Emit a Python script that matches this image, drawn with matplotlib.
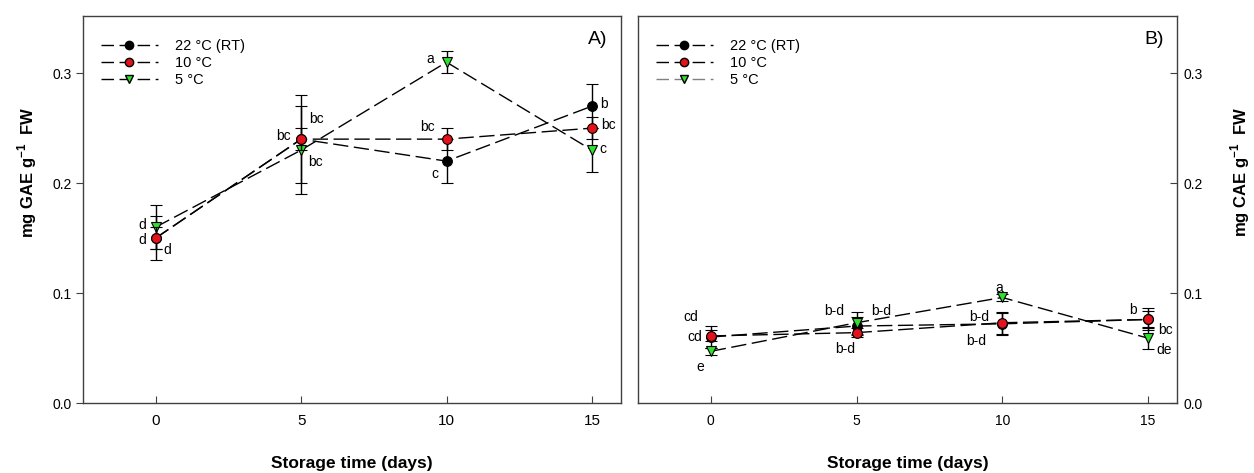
import matplotlib
matplotlib.use("Agg")
import matplotlib.pyplot as plt
from matplotlib.lines import Line2D

plt.rcParams['font.family'] = ['Liberation Sans', 'DejaVu Sans']
plt.rcParams['mathtext.fontset'] = 'custom'
plt.rcParams['mathtext.rm'] = 'Liberation Sans'
plt.rcParams['mathtext.bf'] = 'Liberation Sans:bold'

days = [0, 5, 10, 15]
series_names = ["22 °C (RT)", "10 °C", "5 °C"]

# Panel A (mg GAE g-1 FW)
a_22 = [0.15, 0.24, 0.22, 0.27]
a_22_err = [0.02, 0.04, 0.02, 0.02]
a_10 = [0.15, 0.24, 0.24, 0.25]
a_10_err = [0.01, 0.01, 0.01, 0.01]
a_5 = [0.16, 0.23, 0.31, 0.23]
a_5_err = [0.02, 0.04, 0.01, 0.02]

# Panel B (mg CAE g-1 FW)
b_22 = [0.060, 0.070, 0.072, 0.076]
b_22_err = [0.010, 0.008, 0.010, 0.008]
b_10 = [0.061, 0.064, 0.073, 0.076]
b_10_err = [0.005, 0.004, 0.010, 0.010]
b_5 = [0.047, 0.073, 0.096, 0.059]
b_5_err = [0.003, 0.010, 0.003, 0.010]

# letters: (x, y, text)
a_letters = [(-0.47, 0.162, "d"), (-0.47, 0.148, "d"), (0.41, 0.139, "d"),
             (5.54, 0.258, "bc"), (4.38, 0.243, "bc"), (5.48, 0.219, "bc"),
             (9.43, 0.313, "a"), (9.35, 0.251, "bc"), (9.59, 0.208, "c"),
             (15.41, 0.272, "b"), (15.56, 0.253, "bc"), (15.38, 0.231, "c")]
b_letters = [(-0.68, 0.078, "cd"), (-0.55, 0.060, "cd"), (-0.37, 0.033, "e"),
             (4.25, 0.084, "b-d"), (5.85, 0.084, "b-d"), (4.6, 0.049, "b-d"),
             (9.9, 0.105, "a"), (9.2, 0.078, "b-d"), (9.1, 0.056, "b-d"),
             (14.5, 0.085, "b"), (15.6, 0.066, "bc"), (15.55, 0.048, "de")]

RED = '#e3121b'
GREEN = '#2fe02f'
SPINE = '#404040'

fig = plt.figure(figsize=(12.54, 4.73), dpi=100)
axA = fig.add_axes([83/1254, 70/473, 538/1254, 387/473])
axB = fig.add_axes([638/1254, 70/473, 539/1254, 387/473])

def draw(ax, s22, e22, s10, e10, s5, e5, letters, panel, legend_gray):
    common = dict(ls=(0, (11, 4)), lw=1.0, ecolor='black', elinewidth=1.0,
                  capsize=4.3, capthick=1.0, markeredgecolor='black',
                  markeredgewidth=0.8, markersize=7)
    ax.errorbar(days, s22, yerr=e22, color='black', marker='o',
                markerfacecolor='black', zorder=3, **common)
    ax.errorbar(days, s5, yerr=e5, color='black', marker='v',
                markerfacecolor=GREEN, zorder=4, **common)
    ax.errorbar(days, s10, yerr=e10, color='black', marker='o',
                markerfacecolor=RED, zorder=5, **common)
    for x, y, t in letters:
        ax.text(x, y, t, ha='center', va='center', fontsize=10, zorder=6)
    ax.set_xlim(-2.5, 16)
    ax.set_ylim(0, 0.352)
    ax.set_xticks(days)
    ax.set_yticks([0.0, 0.1, 0.2, 0.3])
    ax.set_yticklabels(["0.0", "0.1", "0.2", "0.3"])
    for sp in ax.spines.values():
        sp.set_color(SPINE)
        sp.set_linewidth(1.0)
    ax.text(0.975, 0.94, panel, transform=ax.transAxes, ha='right',
            va='center', fontsize=14)
    ax.set_xlabel("Storage time (days)", fontsize=12.5, fontweight='bold',
                  labelpad=20)
    handles = [
        Line2D([], [], color='black', ls=(0, (9, 4)), lw=1.0, marker='o',
               markerfacecolor='black', markeredgecolor='black', markersize=6),
        Line2D([], [], color='black', ls=(0, (9, 4)), lw=1.0, marker='o',
               markerfacecolor=RED, markeredgecolor='black', markersize=6),
        Line2D([], [], color='gray' if legend_gray else 'black', ls=(0, (9, 4)),
               lw=1.0, marker='v', markerfacecolor=GREEN,
               markeredgecolor='black', markersize=6),
    ]
    ax.legend(handles, series_names, loc='upper left', frameon=False,
              fontsize=10.5, handlelength=3.9, handletextpad=1.2,
              labelspacing=0.2, borderaxespad=0.0,
              bbox_to_anchor=(0.022, 0.955), numpoints=1)

draw(axA, a_22, a_22_err, a_10, a_10_err, a_5, a_5_err, a_letters, "A)", False)
draw(axB, b_22, b_22_err, b_10, b_10_err, b_5, b_5_err, b_letters, "B)", True)

axA.tick_params(axis='y', direction='out', length=5, labelsize=10,
                color=SPINE, pad=3)
axA.tick_params(axis='x', direction='in', length=5, labelsize=11,
                color=SPINE, pad=8)

axB.yaxis.tick_right()
axB.tick_params(axis='y', direction='in', length=5, labelsize=10,
                color=SPINE, pad=5)
axB.tick_params(axis='x', direction='in', length=5, labelsize=10,
                color=SPINE, pad=8)

fig.text(27/1254, 1 - 172/473, r"mg GAE g$^{\mathbf{-1}}$  FW", rotation=90,
         ha='center', va='center', fontsize=12, fontweight='bold')
fig.text(1240/1254, 1 - 172/473, r"mg CAE g$^{\mathbf{-1}}$  FW", rotation=90,
         ha='center', va='center', fontsize=12, fontweight='bold')

fig.savefig("out.png", dpi=100)
